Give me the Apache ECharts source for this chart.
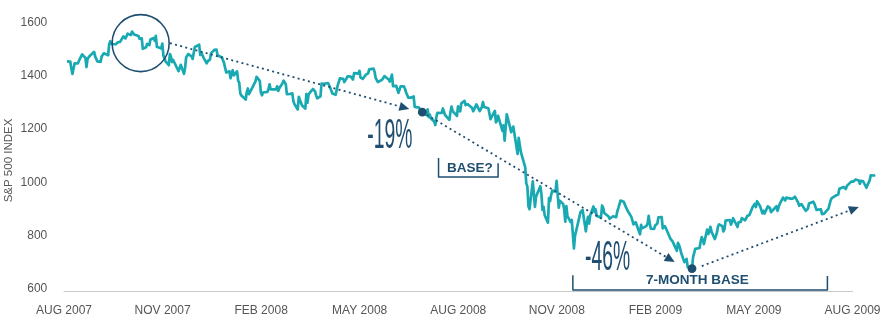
<!DOCTYPE html>
<html><head><meta charset="utf-8">
<script src="https://cdn.jsdelivr.net/npm/echarts@6/dist/echarts.min.js"></script>
<style>html,body{margin:0;padding:0;background:#fff}#c{width:888px;height:323px}</style>
</head><body><div id="c"></div>
<script>
// ---------- data ----------
const tickLabels = ['AUG 2007','NOV 2007','FEB 2008','MAY 2008','AUG 2008','NOV 2008','FEB 2009','MAY 2009','AUG 2009'];
const yTicks = [600, 800, 1000, 1200, 1400, 1600];
const firstDate = '2007-08-10';
const marketHolidays = ['2007-09-03','2007-11-22','2007-12-25','2008-01-01','2008-01-21','2008-02-18','2008-03-21',
  '2008-05-26','2008-07-04','2008-09-01','2008-11-27','2008-12-25','2009-01-01','2009-01-19','2009-02-16',
  '2009-04-10','2009-05-25','2009-07-03'];
// daily closes, Aug 10 2007 -> Dec 2007
const closes2007 = [
  1453.6,1452.9,1426.5,1406.7,1411.3,1445.9,1445.6,1447.1,1464.1,1462.5,1479.4,1466.8,1432.4,1463.8,1457.6,1474.0,
  1489.4,1472.3,1478.6,1453.6,1451.7,1471.5,1471.6,1483.9,1484.3,1476.7,1519.8,1529.0,1518.8,1525.8,1517.7,1517.2,1525.4,1531.4,1526.8,
  1547.0,1546.6,1539.6,1542.8,1557.6,1552.6,1565.2,1562.5,1554.4,1561.8,1548.7,1538.5,1541.2,1540.1,1500.6,1506.3,1519.6,1515.9,1514.4,1535.3,1541.0,1531.0,1549.4,
  1508.4,1509.7,1502.2,1520.3,1475.6,1474.8,1453.7,1439.2,1481.1,1470.6,1451.2,1458.7,1433.3,1439.7,1416.8,1440.7,1407.2,1428.2,1469.0,1469.7,1481.1,
  1472.4,1462.8,1485.0,1507.3,1504.7,1516.0,1477.7,1486.6,1488.4,1468.0,1445.9,1455.0,1453.0,1460.1,1484.5,1496.5,1497.7,1476.3,1478.5,1468.4
];
const closes2008 = [
  1447.2,1447.2,1411.6,1416.2,1390.2,1409.1,1420.3,1401.0,1416.3,1381.0,1373.2,1333.3,1325.2,1310.5,1338.6,1352.1,1330.6,1354.0,1362.3,1355.8,1378.6,
  1395.4,1380.8,1336.6,1326.5,1336.9,1331.3,1339.1,1348.9,1367.2,1348.9,1350.0,1348.8,1360.0,1342.5,1353.1,1371.8,1381.3,1380.0,1367.7,1330.6,
  1331.3,1326.8,1333.7,1304.3,1293.4,1273.4,1320.7,1308.8,1315.5,1288.1,1276.6,1330.7,1298.4,1329.5,1349.9,1353.0,1341.1,1325.8,1315.2,1322.7,
  1370.2,1367.5,1369.3,1370.4,1372.5,1365.5,1354.5,1360.6,1332.8,1328.3,1334.4,1364.7,1365.6,1390.3,1388.2,1375.9,1379.9,1388.8,1397.8,1396.4,1390.9,1385.6,
  1409.3,1413.9,1407.5,1418.3,1392.6,1397.7,1388.3,1403.6,1403.0,1408.7,1423.6,1425.4,1426.6,1413.4,1390.7,1394.4,1375.9,1385.4,1390.8,1398.3,1400.4,
  1385.7,1377.7,1377.2,1404.1,1360.7,1361.8,1358.4,1335.5,1339.9,1360.0,1360.1,1350.9,1337.8,1342.8,1317.9,1318.0,1314.3,1322.0,1283.2,1278.4,1280.0,
  1284.9,1261.5,1262.9,1252.3,1273.7,1244.7,1253.4,1239.5,1228.3,1214.9,1245.4,1260.3,1260.7,1260.0,1277.0,1282.2,1252.5,1257.8,1234.4,1263.2,1284.3,1267.4,
  1260.3,1249.0,1284.9,1289.2,1266.1,1296.3,1305.3,1289.6,1285.8,1292.9,1298.2,1278.6,1266.7,1274.5,1277.7,1292.2,1266.8,1271.5,1281.7,1300.7,1282.8,
  1277.6,1275.0,1236.8,1242.3,1267.8,1224.5,1232.0,1249.1,1251.7,1192.7,1213.6,1156.4,1206.5,1255.1,1207.1,1188.2,1185.9,1209.2,1213.3,1106.4,1166.4,
  1161.1,1114.3,1099.2,1056.9,996.2,984.9,909.9,899.2,1003.4,998.0,907.8,946.4,940.6,985.4,955.1,896.8,908.1,876.8,848.9,940.5,930.1,954.1,968.8,
  966.3,1005.8,952.8,904.9,931.0,919.2,899.0,852.3,911.3,873.3,850.8,859.1,806.6,752.4,800.0,851.8,857.4,887.7,896.2,
  816.2,848.8,870.7,845.2,876.1,909.7,888.7,899.2,873.6,879.7,868.6,913.2,904.4,885.3,887.9,871.6,863.2,868.2,872.8,869.4,890.6,903.3
];
// Jan 2009 -> Aug 25 2009
const closes2009 = [
  931.8,927.5,934.7,906.7,909.7,890.4,870.3,871.8,842.6,843.7,850.1,805.2,840.2,827.5,832.0,836.6,845.7,874.1,845.1,825.9,
  825.4,838.5,832.2,845.9,868.6,869.9,827.2,833.7,835.2,826.8,789.2,788.4,778.9,770.1,743.3,773.1,764.9,752.8,735.1,
  700.8,696.3,712.9,682.6,683.4,676.5,719.6,721.4,750.7,756.6,753.9,778.1,794.4,784.0,768.5,822.9,806.1,813.9,832.9,815.9,787.5,797.9,
  811.1,834.4,842.5,835.5,815.6,825.2,856.6,858.7,841.5,852.1,865.3,869.6,832.4,850.1,843.6,851.9,866.2,857.5,855.2,873.6,872.8,
  877.5,907.2,903.8,919.5,907.4,929.2,909.2,908.4,883.9,893.1,882.9,909.7,908.1,903.5,888.3,887.0,910.3,893.1,906.8,919.1,
  942.9,944.7,931.8,942.5,940.1,939.1,942.4,939.2,944.9,946.2,923.7,912.0,910.7,918.4,921.2,893.0,895.1,900.9,920.3,918.9,927.2,919.3,
  923.3,896.4,898.7,881.0,879.6,882.7,879.1,901.1,905.8,932.7,940.7,940.4,951.1,954.6,954.1,976.3,979.3,982.2,979.6,975.2,986.8,987.5,
  1002.6,1005.7,1002.7,997.1,1010.5,1007.1,994.4,1005.8,1012.7,1004.1,979.7,989.7,996.5,1007.4,1026.1,1025.6,1028.0
];
// annotation anchors in data space [date, index value]
const peakCircleAt = ['2007-10-17', 1522];
const drop1From = ['2007-11-13', 1522], drop1To = ['2008-06-21', 1275];
const dotDates = ['2008-07-03', '2009-03-09'];
const drop2To = ['2009-02-21', 701];
const riseFrom = ['2009-03-18', 686], riseTo = ['2009-08-10', 907.5];
const pctLabels = [['-19%', '2008-06-03', 1174], ['-46%', '2008-12-21', 716]];
const baseLabels = [
  {text: 'BASE?', at: ['2008-08-16', 1053], left: '2008-07-18', right: '2008-09-11', topL: 1091, topR: 1072, bottom: 1020},
  {text: '7-MONTH BASE', at: ['2009-03-14', 631], left: '2008-11-19', right: '2009-07-12', topL: 652, topR: 649, bottom: 596}
];

// ---------- build ----------
function ts(s){ return +new Date(s + 'T00:00:00'); }
function fmt(d){ return d.getFullYear() + '-' + String(d.getMonth()+1).padStart(2,'0') + '-' + String(d.getDate()).padStart(2,'0'); }
function tradingDates(start, n, holidays){
  const out = [], hs = new Set(holidays), d = new Date(start + 'T00:00:00');
  while (out.length < n){
    const wd = d.getDay(), s = fmt(d);
    if (wd !== 0 && wd !== 6 && !hs.has(s)) out.push(s);
    d.setDate(d.getDate() + 1);
  }
  return out;
}
const closes = closes2007.concat(closes2008, closes2009);
const dates = tradingDates(firstDate, closes.length, marketHolidays);
const seriesData = dates.map((d, i) => [ts(d), closes[i]]);

const NAVY = '#1f4f70', TEAL = '#19a9b2', GREY = '#555555', FONT = 'Liberation Sans, Arial, sans-serif';
const chart = echarts.init(document.getElementById('c'));
chart.setOption({
  animation: false,
  grid: [
    {left: 57.25, width: 825.4, top: 22.33, height: 266.67},
    {left: 64, right: 35.5, top: 22.33, bottom: 32}
  ],
  xAxis: [
    {type: 'time', gridIndex: 0, min: ts('2007-08-01'), max: ts('2009-09-01'), show: false},
    {type: 'category', gridIndex: 1, data: tickLabels, boundaryGap: false,
     axisLine: {onZero: false, lineStyle: {color: '#c9c9c9', width: 1}}, axisTick: {show: false},
     axisLabel: {color: GREY, fontSize: 12, fontFamily: FONT, margin: 14, interval: 0}}
  ],
  yAxis: [
    {type: 'value', gridIndex: 0, min: yTicks[0], max: yTicks[yTicks.length-1], interval: yTicks[1]-yTicks[0],
     splitLine: {show: false}, axisLine: {show: false}, axisTick: {show: false},
     axisLabel: {color: GREY, fontSize: 12, fontFamily: FONT, margin: 10, padding: [0,0,5,0], formatter: v => String(v)}},
    {type: 'value', gridIndex: 1, show: false}
  ],
  series: [{
    type: 'line', xAxisIndex: 0, yAxisIndex: 0, data: seriesData, showSymbol: false,
    lineStyle: {color: TEAL, width: 2.7, join: 'round'}, z: 2
  }]
});

// ---------- annotations ----------
function px(date, v){ return chart.convertToPixel({seriesIndex: 0}, [ts(date), v]); }
function valueAt(date){ const i = dates.indexOf(date); return closes[i]; }
const els = [];
function arrow(a, b){
  const dx = b[0]-a[0], dy = b[1]-a[1], L = Math.hypot(dx, dy), ux = dx/L, uy = dy/L;
  const len = 10, hw = 4.6;
  const base = [b[0]-ux*len, b[1]-uy*len];
  els.push({type: 'line', z: 100, shape: {x1: a[0], y1: a[1], x2: base[0], y2: base[1]},
    style: {stroke: NAVY, lineWidth: 1.8, lineDash: [2, 3.3]}});
  els.push({type: 'polygon', z: 101, shape: {points: [b, [base[0]-uy*hw, base[1]+ux*hw], [base[0]+uy*hw, base[1]-ux*hw]]},
    style: {fill: NAVY}});
}
const cc = px(peakCircleAt[0], peakCircleAt[1]);
els.push({type: 'circle', z: 100, shape: {cx: cc[0], cy: cc[1], r: 28.5}, style: {fill: 'none', stroke: NAVY, lineWidth: 1.6}});
const d1 = px(dotDates[0], valueAt(dotDates[0]));
const d2 = px(dotDates[1], valueAt(dotDates[1]));
arrow(px(drop1From[0], drop1From[1]), px(drop1To[0], drop1To[1]));
arrow(d1, px(drop2To[0], drop2To[1]));
arrow(px(riseFrom[0], riseFrom[1]), px(riseTo[0], riseTo[1]));
[d1, d2].forEach(p => els.push({type: 'circle', z: 102, shape: {cx: p[0], cy: p[1], r: 4.4}, style: {fill: NAVY}}));
pctLabels.forEach(([t, d, v]) => {
  const p = px(d, v);
  els.push({type: 'text', z: 103, x: p[0], y: p[1], scaleX: 0.46,
    style: {text: t, fontSize: 42, fontFamily: FONT, fill: NAVY, align: 'center', verticalAlign: 'middle'}});
});
baseLabels.forEach(b => {
  const l = px(b.left, b.bottom)[0], r = px(b.right, b.bottom)[0];
  const yb = px(b.left, b.bottom)[1], ytl = px(b.left, b.topL)[1], ytr = px(b.left, b.topR)[1];
  els.push({type: 'polyline', z: 100, shape: {points: [[l, ytl], [l, yb], [r, yb], [r, ytr]]},
    style: {stroke: NAVY, lineWidth: 1.5, fill: null, lineJoin: 'round'}});
  const p = px(b.at[0], b.at[1]);
  els.push({type: 'text', z: 103, x: p[0], y: p[1],
    style: {text: b.text, fontSize: 13.5, fontWeight: 'bold', fontFamily: FONT, fill: NAVY, align: 'center', verticalAlign: 'middle'}});
});
els.push({type: 'text', z: 103, x: 9, y: 160.5, rotation: Math.PI/2,
  style: {text: 'S&P 500 INDEX', fontSize: 11.5, fontFamily: FONT, fill: GREY, align: 'center', verticalAlign: 'middle'}});
chart.setOption({graphic: {elements: els}});
</script>
</body></html>
